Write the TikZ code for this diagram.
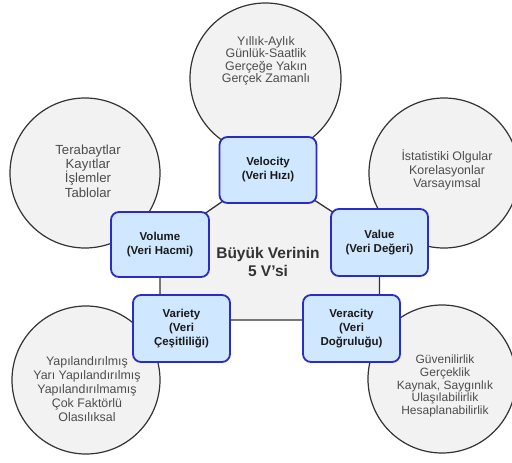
\documentclass[tikz,border=0pt]{standalone}
\usepackage{fontspec}
\setmainfont{Liberation Sans}
\definecolor{circfill}{HTML}{F2F2F2}
\definecolor{circline}{HTML}{333333}
\definecolor{boxfill}{HTML}{CFE7FF}
\definecolor{boxline}{HTML}{2B2BC8}
\definecolor{circtext}{HTML}{4D4D4D}
\definecolor{boxtext}{HTML}{1A1A1A}
\definecolor{midtext}{HTML}{333333}
\begin{document}
\begin{tikzpicture}[x=1pt,y=-1pt,
  circ/.style={circle,draw=circline,fill=circfill,line width=1.2pt,inner sep=0pt},
  ctext/.style={align=center,text=circtext,font=\fontsize{12.4}{13.8}\selectfont,inner sep=0pt},
  vbox/.style={rectangle,rounded corners=8pt,draw=boxline,fill=boxfill,line width=1.8pt,
    minimum width=97pt,minimum height=66pt,align=center,text=boxtext,
    font=\bfseries\fontsize{11.5}{14}\selectfont,inner sep=0pt},
  conn/.style={draw=circline,line width=1.3pt}]
\useasboundingbox (0,0) rectangle (512,463);
% outer circles
\node[circ,minimum size=151pt] (c1) at (265.5,78.5) {};
\node[circ,minimum size=150pt] (c2) at (85,173) {};
\node[circ,minimum size=150pt] (c3) at (444,173) {};
\node[circ,minimum size=148pt] (c4) at (86,380) {};
\node[circ,minimum size=148pt] (c5) at (442,379) {};
\node[ctext,font=\fontsize{12.4}{12.4}\selectfont] (t1) at (266,61) {Yıllık-Aylık\\Günlük-Saatlik\\Gerçeğe Yakın\\Gerçek Zamanlı};
\node[ctext,font=\fontsize{13.2}{14.2}\selectfont] (t2) at (88,171) {Terabaytlar\\Kayıtlar\\İşlemler\\Tablolar};
\node[ctext] (t3) at (447,170) {İstatistiki Olgular\\Korelasyonlar\\Varsayımsal};
\node[ctext] (t4) at (87,389) {Yapılandırılmış\\Yarı Yapılandırılmış\\Yapılandırılmamış\\Çok Faktörlü\\Olasılıksal};
\node[ctext,font=\fontsize{12}{12.8}\selectfont] (t5) at (445,386) {Güvenilirlik\\Gerçeklik\\Kaynak, Saygınlık\\Ulaşılabilirlik\\Hesaplanabilirlik};
% box anchors (positions)
\coordinate (pvel) at (268,170);
\coordinate (pvol) at (160,244.5);
\coordinate (pval) at (379.5,242.5);
\coordinate (pvar) at (181.5,328.5);
\coordinate (pver) at (351.5,328.5);
\coordinate (hl) at (0,320);
% connectors / central area
\path[conn,fill=circfill] (pvel) -- (pval) -- (pval |- hl) -- (pvol |- hl) -- (pvol) -- cycle;
% boxes
\node[vbox] (velocity) at (pvel) {Velocity\\(Veri Hızı)};
\node[vbox,minimum width=98pt,minimum height=65pt] (volume) at (pvol) {Volume\\(Veri Hacmi)};
\node[vbox,minimum height=67pt] (value) at (pval) {Value\\(Veri Değeri)};
\node[vbox,minimum height=67pt] (variety) at (pvar) {Variety\\(Veri\\Çeşitliliği)};
\node[vbox,minimum height=67pt] (veracity) at (pver) {Veracity\\(Veri\\Doğruluğu)};
% centre title
\node[align=center,text=midtext,font=\bfseries\fontsize{15.5}{18.5}\selectfont,inner sep=0pt] (title) at (268,262) {Büyük Verinin\\5 V'si};
\end{tikzpicture}
\end{document}
